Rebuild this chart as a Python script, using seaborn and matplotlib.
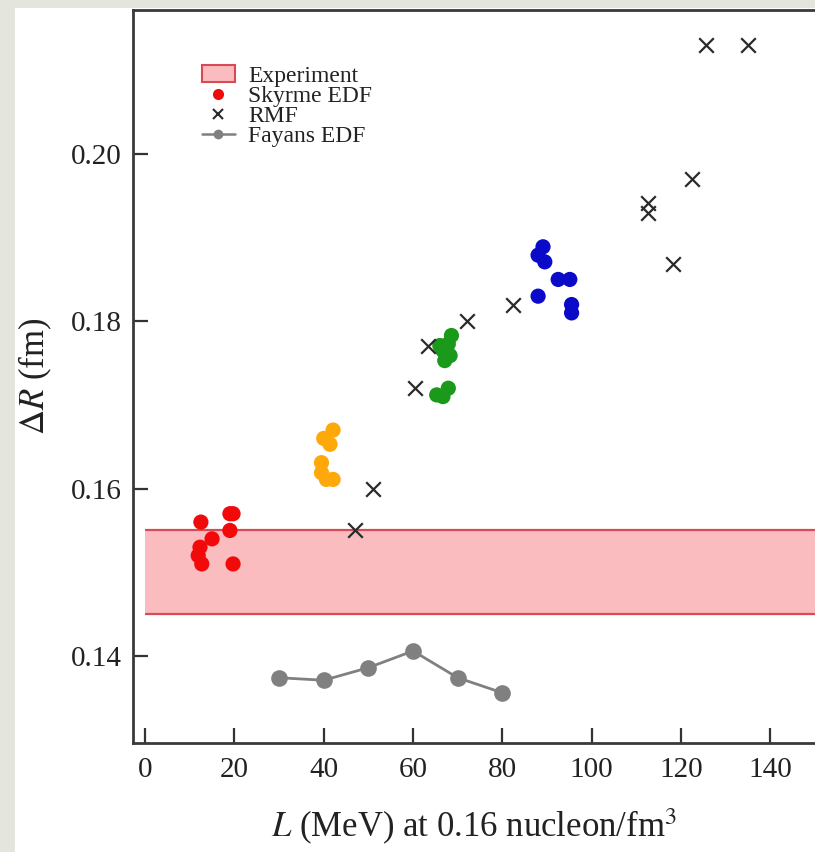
import matplotlib
matplotlib.use("Agg")
import matplotlib.pyplot as plt
from matplotlib.lines import Line2D
from matplotlib.patches import Patch, Rectangle
import numpy as np
import pandas as pd
import seaborn as sns

# Skyrme EDF results, grouped by family (colour)
skyrme_L = [12.5, 15.0, 12.3, 11.9, 12.7, 19.0, 19.7, 19.0, 19.7,
            42.1, 40.0, 41.4, 39.5, 39.5, 42.1, 40.6,
            68.6, 67.9, 66.7, 67.1, 68.3, 66.0, 65.3, 67.9, 66.7,
            89.1, 88.0, 89.5, 92.5, 95.1, 88.0, 95.5, 95.5]
skyrme_dR = [0.156, 0.154, 0.153, 0.152, 0.151, 0.157, 0.157, 0.155, 0.151,
             0.167, 0.166, 0.1653, 0.1631, 0.1619, 0.1611, 0.1611,
             0.1783, 0.1773, 0.1765, 0.1753, 0.1759, 0.1771, 0.1712, 0.1720, 0.1710,
             0.1889, 0.1879, 0.1871, 0.185, 0.185, 0.183, 0.182, 0.181]
skyrme_group = (["a"] * 9 + ["b"] * 7 + ["c"] * 9 + ["d"] * 8)
group_colors = {"a": "#f20a0a", "b": "#ffa80a", "c": "#1a991a", "d": "#0a0ac8"}

# RMF results
rmf_L = [47.0, 51.1, 60.4, 63.4, 72.0, 82.4, 112.6, 112.6, 118.2, 122.4, 125.7, 135.1]
rmf_dR = [0.155, 0.160, 0.172, 0.177, 0.180, 0.182, 0.1941, 0.1929, 0.1869, 0.197, 0.213, 0.213]

# Fayans EDF results
fayans_L = [30, 40, 50, 60, 70, 80]
fayans_dR = [0.1374, 0.1371, 0.1386, 0.1406, 0.1374, 0.1356]

# Experimental band
exp_low, exp_high = 0.145, 0.155

x_ticks = [0, 20, 40, 60, 80, 100, 120, 140]
y_ticks = [0.14, 0.16, 0.18, 0.20]

sns.set_style("ticks")
plt.rcParams["font.family"] = ["Liberation Serif", "DejaVu Serif"]
plt.rcParams["mathtext.fontset"] = "stix"

fig = plt.figure(figsize=(8.15, 8.52), dpi=100)
fig.patch.set_facecolor("white")
fig.patches.append(Rectangle((0, 0), 15 / 815, 1, transform=fig.transFigure,
                             facecolor="#e4e5dc", edgecolor="none", zorder=0))
fig.patches.append(Rectangle((0, 1 - 8 / 852), 1, 8 / 852, transform=fig.transFigure,
                             facecolor="#e4e5dc", edgecolor="none", zorder=0))

ax = fig.add_axes([133 / 815, 1 - 743 / 852, 1 - 133 / 815, (743 - 10) / 852])

band_color = "#fbbcc0"
band_edge = "#d84a55"
ax.fill_between([0, 200], exp_low, exp_high, color=band_color, lw=0, zorder=1)
ax.hlines([exp_low, exp_high], 0, 200, colors=band_edge, lw=1.6, zorder=2)

sky = pd.DataFrame({"L": skyrme_L, "dR": skyrme_dR, "grp": skyrme_group})
sns.scatterplot(data=sky, x="L", y="dR", hue="grp", palette=group_colors,
                s=120, linewidth=0, legend=False, ax=ax, zorder=4)

rmf = pd.DataFrame({"L": rmf_L, "dR": rmf_dR})
sns.scatterplot(data=rmf, x="L", y="dR", marker="x", color="#2a2a2a",
                s=110, linewidth=1.6, legend=False, ax=ax, zorder=5)

fay = pd.DataFrame({"L": fayans_L, "dR": fayans_dR})
sns.lineplot(data=fay, x="L", y="dR", color="#808080", lw=2,
             marker="o", markersize=12, markeredgewidth=0, ax=ax, zorder=3)

ax.set_xlim(-2.7, 150)
ax.set_ylim(0.1296, 0.2172)
ax.set_xticks(x_ticks)
ax.set_yticks(y_ticks)
ax.set_yticklabels([f"{v:.2f}" for v in y_ticks])
ax.tick_params(axis="both", direction="in", length=11, width=1.6,
               color="#333333", labelsize=21, labelcolor="#222222")
ax.tick_params(axis="x", pad=10)
ax.tick_params(axis="y", pad=8)

for side in ["left", "bottom", "top"]:
    ax.spines[side].set_color("#3a3a3a")
    ax.spines[side].set_linewidth(2)
ax.spines["right"].set_visible(False)

ax.set_xlabel(r"$L$ (MeV) at 0.16 nucleon/fm$^3$", fontsize=25, color="#222222",
              labelpad=17)
ax.set_ylabel(r"$\Delta R$ (fm)", fontsize=25, color="#222222", labelpad=12)

handles = [
    Patch(facecolor=band_color, edgecolor=band_edge, lw=1.5, label="Experiment"),
    Line2D([], [], ls="none", marker="o", color="#f20a0a", markersize=8,
           markeredgewidth=0, label="Skyrme EDF"),
    Line2D([], [], ls="none", marker="x", color="#2a2a2a", markersize=7,
           markeredgewidth=1.5, label="RMF"),
    Line2D([], [], color="#808080", lw=1.8, marker="o", markersize=7,
           markeredgewidth=0, label="Fayans EDF"),
]
leg = ax.legend(handles=handles, loc="upper left", bbox_to_anchor=(0.101, 0.9245),
                frameon=False, fontsize=17, labelspacing=-0.06, handlelength=1.4,
                handletextpad=0.55, borderaxespad=0, borderpad=0)
for t in leg.get_texts():
    t.set_color("#222222")

fig.savefig("out.png", dpi=100, facecolor=fig.get_facecolor())
